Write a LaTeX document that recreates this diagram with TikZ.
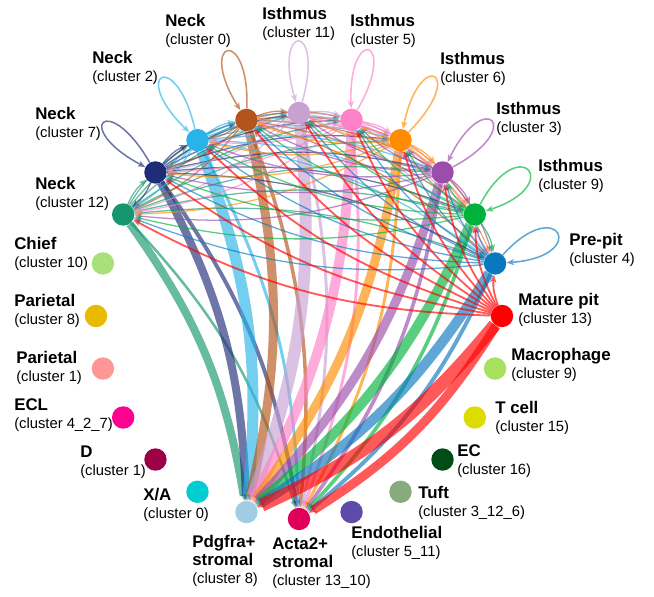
\documentclass[tikz,border=0pt]{standalone}
\usepackage{fontspec}
\setmainfont{Liberation Sans}
\usetikzlibrary{arrows.meta}
\pgfdeclarelayer{bg}
\pgfsetlayers{bg,main}
% cluster colours
\definecolor{cn12}{RGB}{22,150,110}
\definecolor{cn7}{RGB}{32,44,120}
\definecolor{cn2}{RGB}{40,180,232}
\definecolor{cn0}{RGB}{178,84,28}
\definecolor{ci11}{RGB}{200,160,210}
\definecolor{ci5}{RGB}{255,128,200}
\definecolor{ci6}{RGB}{255,140,0}
\definecolor{ci3}{RGB}{154,77,170}
\definecolor{ci9}{RGB}{0,178,60}
\definecolor{cpp}{RGB}{10,120,190}
\definecolor{cmp}{RGB}{255,0,0}
\definecolor{cmac}{RGB}{168,224,96}
\definecolor{ctc}{RGB}{220,220,0}
\definecolor{cec}{RGB}{0,77,23}
\definecolor{ctuft}{RGB}{135,170,127}
\definecolor{cendo}{RGB}{94,74,168}
\definecolor{cacta}{RGB}{224,0,90}
\definecolor{cpdg}{RGB}{160,205,228}
\definecolor{cxa}{RGB}{0,205,210}
\definecolor{cd}{RGB}{158,0,70}
\definecolor{cecl}{RGB}{255,0,144}
\definecolor{cpar1}{RGB}{255,150,150}
\definecolor{cpar8}{RGB}{232,186,0}
\definecolor{cchief}{RGB}{168,224,122}
\newcommand\ctitle[1]{{\fontsize{12}{12.8}\selectfont\bfseries #1}}
\tikzset{
  dot/.style={circle,fill=#1,inner sep=0pt,minimum size=0.56cm},
  lab/.style={align=left,anchor=west,inner sep=0pt,font=\fontsize{10.5}{12.8}\selectfont},
  edge/.style={draw=#1,opacity=0.65,-{Stealth[length=5.5pt,width=4.5pt,line width=0pt]}},
  self/.style={edge=#1,line width=1.1pt,min distance=2.1cm},
}
\begin{document}
\begin{tikzpicture}[x=0.025cm,y=0.025cm]
  \useasboundingbox (-299,-281) rectangle (355,316);
  \def\R{203}
  %% clusters on the circle
  \foreach \s/\a in {i11/90, i5/75, i6/60, i3/45, i9/30, pp/15, mp/0, mac/-15,
      tc/-30, ec/-45, tuft/-60, endo/-75, acta/-90, pdg/-105, xa/-120, d/-135,
      ecl/-150, par1/-165, par8/180, chief/165, n12/150, n7/135, n2/120, n0/105}
    \node[dot=c\s] (\s) at (\a:\R) {};
  %% names
  \node[lab] (ln0) at (-134,285) {\ctitle{Neck}\\(cluster 0)};
  \node[lab] (li11) at (-37,292) {\ctitle{Isthmus}\\(cluster 11)};
  \node[lab] (li5) at (51,285) {\ctitle{Isthmus}\\(cluster 5)};
  \node[lab] (li6) at (141,247) {\ctitle{Isthmus}\\(cluster 6)};
  \node[lab] (li3) at (197,197) {\ctitle{Isthmus}\\(cluster 3)};
  \node[lab] (li9) at (239,140) {\ctitle{Isthmus}\\(cluster 9)};
  \node[lab] (lpp) at (270,66) {\ctitle{Pre-pit}\\(cluster 4)};
  \node[lab] (lmp) at (219,6) {\ctitle{Mature pit}\\(cluster 13)};
  \node[lab] (lmac) at (212,-49) {\ctitle{Macrophage}\\(cluster 9)};
  \node[lab] (ltc) at (196,-102) {\ctitle{T cell}\\(cluster 15)};
  \node[lab] (lec) at (158,-145) {\ctitle{EC}\\(cluster 16)};
  \node[lab] (ltuft) at (119,-187) {\ctitle{Tuft}\\(cluster 3\_12\_6)};
  \node[lab] (lendo) at (52,-227) {\ctitle{Endothelial}\\(cluster 5\_11)};
  \node[lab] (lacta) at (-27,-247) {\ctitle{Acta2+}\\\ctitle{stromal}\\(cluster 13\_10)};
  \node[lab] (lpdg) at (-107,-245) {\ctitle{Pdgfra+}\\\ctitle{stromal}\\(cluster 8)};
  \node[lab] (lxa) at (-156,-189) {\ctitle{X/A}\\(cluster 0)};
  \node[lab] (ld) at (-219,-146) {\ctitle{D}\\(cluster 1)};
  \node[lab] (lecl) at (-285,-99) {\ctitle{ECL}\\(cluster 4\_2\_7)};
  \node[lab] (lpar1) at (-283,-52) {\ctitle{Parietal}\\(cluster 1)};
  \node[lab] (lpar8) at (-285,5) {\ctitle{Parietal}\\(cluster 8)};
  \node[lab] (lchief) at (-285,62) {\ctitle{Chief}\\(cluster 10)};
  \node[lab] (ln12) at (-264,122) {\ctitle{Neck}\\(cluster 12)};
  \node[lab] (ln7) at (-264,192) {\ctitle{Neck}\\(cluster 7)};
  \node[lab] (ln2) at (-207,248) {\ctitle{Neck}\\(cluster 2)};
  \begin{pgfonlayer}{bg}
    %% strong links to the stromal clusters
    \foreach \src/\wa/\wb in {n12/5.7/1.8, n7/5.7/2.8, n2/7.8/2.1, n0/6.4/2.5,
        i11/8.5/2.1, i5/7.1/2.1, i6/6.4/2.1, i3/6.4/2.6, i9/7.1/2.6, pp/7.1/2.8, mp/9.2/6.4}{
      \draw[edge=c\src,line width=\wa*1pt] (\src) to[bend left=13] (pdg);
      \draw[edge=c\src,line width=\wb*1pt] (\src) to[bend left=13] (acta);
    }
    %% weak links between the epithelial clusters (nothing goes into mature pit)
    \foreach \src/\w in {n12/0.9, n7/0.9, n2/0.9, n0/0.9, i11/0.9, i5/0.9,
        i6/0.9, i3/0.9, i9/0.9, pp/0.9, mp/1.3}{
      \foreach \dst in {n12,n7,n2,n0,i11,i5,i6,i3,i9,pp}{
        \edef\ea{\src}\edef\eb{\dst}
        \ifx\ea\eb\else
          \draw[edge=c\src,line width=\w*1pt] (\src) to[bend left=13] (\dst);
        \fi
      }
    }
    %% autocrine loops
    \foreach \src/\o/\i in {n7/120/152, n2/103/136, n0/88/122, i11/74/106,
        i5/60/92, i6/45/78, i3/28/64, i9/62/18, pp/48/4}
      \draw[self=c\src] (\src) to[out=\o,in=\i] (\src);
  \end{pgfonlayer}
\end{tikzpicture}
\end{document}
